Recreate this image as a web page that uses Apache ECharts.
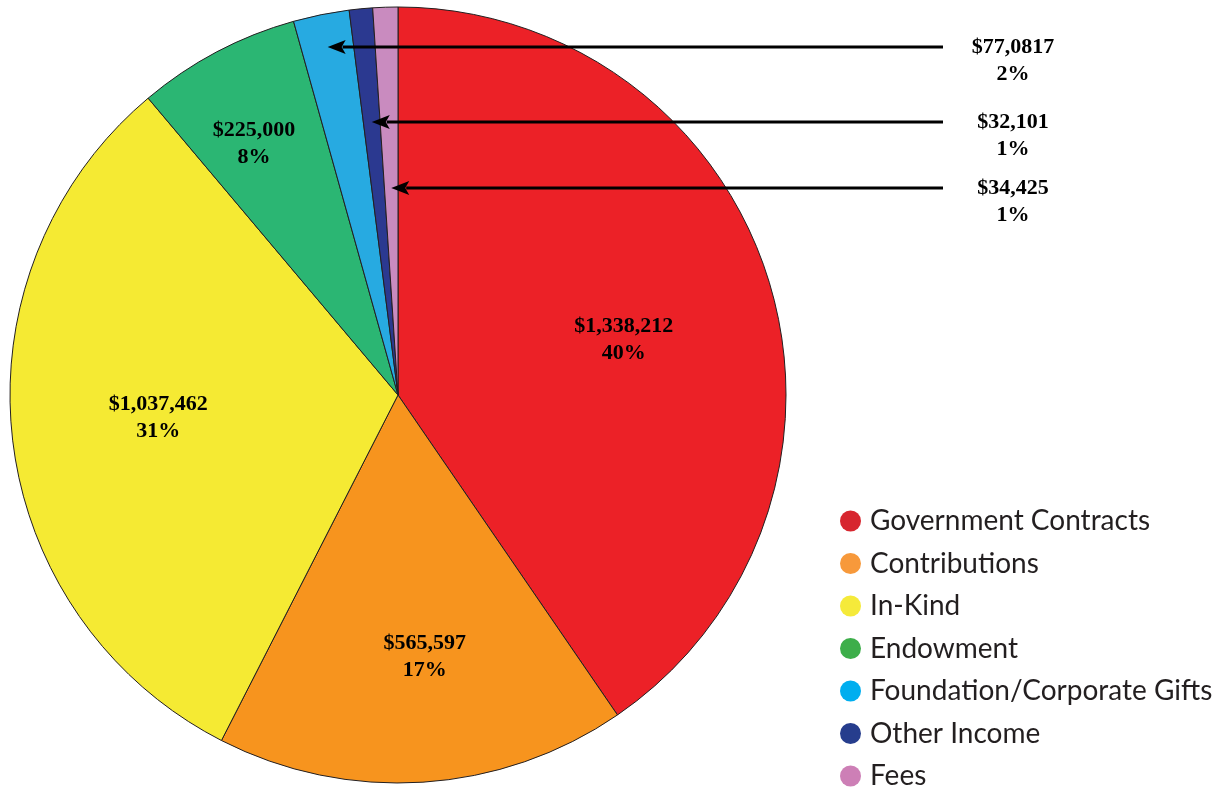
<!DOCTYPE html>
<html><head><meta charset="utf-8">
<script src="https://cdn.jsdelivr.net/npm/echarts@6/dist/echarts.min.js"></script>
<style>html,body{margin:0;padding:0;background:#fff}#c{width:1231px;height:789px}</style>
</head><body><div id="c"></div>
<script>
const categories = ['Government Contracts','Contributions','In-Kind','Endowment','Foundation/Corporate Gifts','Other Income','Fees'];
const amounts = [1338212, 565597, 1037462, 225000, 77081.7, 32101, 34425];
const amountLabels = ['$1,338,212','$565,597','$1,037,462','$225,000','$77,0817','$32,101','$34,425'];
const percentLabels = ['40%','17%','31%','8%','2%','1%','1%'];
const sliceColors = ['#ec2127','#f7941e','#f5ea33','#2bb673','#27aae1','#2b3990','#c98bbf'];
const legendColors = ['#d7262f','#f7993b','#f5ea3a','#3dae4a','#00aeef','#263d8d','#cd7fb6'];

// layout
const CX = 398, CY = 395, R = 388;
const insideRadius = [0.599, 0.679, 0.621, 0.746];
const insideAngleFrac = [0.524, 0.465, 0.509, 0.42];
const calloutY = {4: 47, 5: 122, 6: 188};
const calloutX = 1013, arrowStartX = 943;

const total = amounts.reduce((a, b) => a + b, 0);
const startAngles = [], midAngles = [], spans = [];
let acc = 0;
amounts.forEach(v => {
  startAngles.push(acc / total * 2 * Math.PI);
  spans.push(v / total * 2 * Math.PI);
  midAngles.push((acc + v / 2) / total * 2 * Math.PI);
  acc += v;
});

const graphics = [];
Object.keys(calloutY).forEach(k => {
  const i = +k, y = calloutY[i], a = midAngles[i];
  const t = (CY - y) / Math.cos(a);
  const tipX = CX + t * Math.sin(a);
  const headLen = 18, headHalf = 7;
  graphics.push({type: 'line', silent: true, z: 100, shape: {x1: arrowStartX, y1: y, x2: tipX + headLen - 3, y2: y}, style: {stroke: '#000', lineWidth: 2.8}});
  graphics.push({type: 'polygon', silent: true, z: 100, shape: {points: [[tipX, y], [tipX + headLen, y - headHalf], [tipX + headLen - 4, y], [tipX + headLen, y + headHalf]]}, style: {fill: '#000'}});
});

const chart = echarts.init(document.getElementById('c'), null, {renderer: 'canvas'});
chart.setOption({
  backgroundColor: '#ffffff',
  animation: false,
  legend: {
    orient: 'vertical', left: 840, top: 507, height: 300, padding: 0,
    icon: 'circle', itemWidth: 21, itemHeight: 21, itemGap: 14.5,
    selectedMode: false,
    textStyle: {fontFamily: 'Lato', fontSize: 28, color: '#231f20', lineHeight: 28, padding: [0, 0, 0, 4]},
    data: categories.map((n, i) => ({name: n, itemStyle: {color: legendColors[i], borderWidth: 0}}))
  },
  graphic: {elements: graphics},
  series: [{
    type: 'pie',
    center: [CX, CY], radius: R,
    startAngle: 90, clockwise: true,
    silent: true,
    avoidLabelOverlap: false,
    itemStyle: {borderColor: '#231f20', borderWidth: 1},
    label: {
      show: true, position: 'inside',
      fontFamily: 'Liberation Serif', fontWeight: 'bold', fontSize: 22,
      color: '#000', lineHeight: 27, align: 'center',
      formatter: p => amountLabels[p.dataIndex] + '\n' + percentLabels[p.dataIndex]
    },
    labelLine: {show: false},
    labelLayout: function (p) {
      const i = p.dataIndex;
      if (calloutY[i] !== undefined) {
        return {x: calloutX, y: calloutY[i] + 13.5, align: 'center', verticalAlign: 'middle'};
      }
      const a = startAngles[i] + spans[i] * insideAngleFrac[i], r = R * insideRadius[i];
      return {x: CX + r * Math.sin(a), y: CY - r * Math.cos(a), align: 'center', verticalAlign: 'middle'};
    },
    data: categories.map((n, i) => ({name: n, value: amounts[i], itemStyle: {color: sliceColors[i]}}))
  }]
});
</script>
</body></html>
